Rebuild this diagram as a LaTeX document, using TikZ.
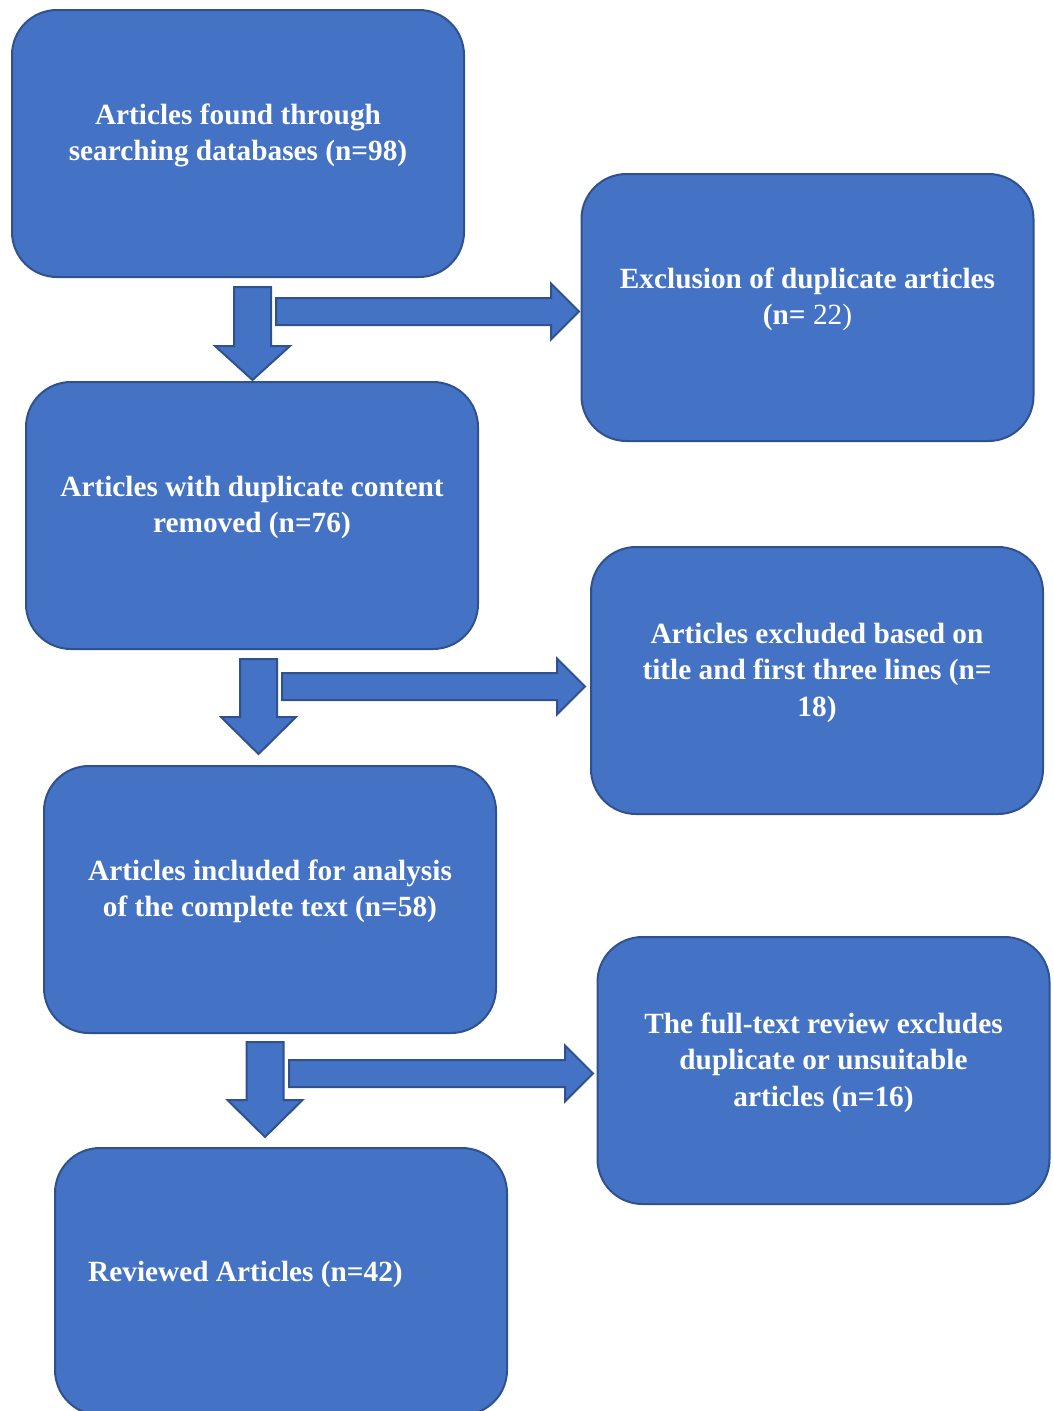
\documentclass[tikz,border=0pt]{standalone}
\usepackage{fontspec}
\setmainfont{Liberation Serif}
\definecolor{boxfill}{HTML}{4472C4}
\definecolor{boxline}{HTML}{2F528F}
\newcommand{\downarr}[4]{% cx, top, headstart, tip
  \fill[blockarrow] ({#1-18.5},#2) -- ({#1+18.5},#2) -- ({#1+18.5},#3) -- ({#1+37.5},#3)
    -- (#1,#4) -- ({#1-37.5},#3) -- ({#1-18.5},#3) -- cycle;}
\newcommand{\rightarr}[4]{% left, cy, headstart, tip
  \fill[blockarrow] (#1,{#2-13.5}) -- (#3,{#2-13.5}) -- (#3,{#2-28}) -- (#4,#2)
    -- (#3,{#2+28}) -- (#3,{#2+13.5}) -- (#1,{#2+13.5}) -- cycle;}
\begin{document}
\begin{tikzpicture}[x=1pt,y=-1pt,
  box/.style={draw=boxline, fill=boxfill, line width=2pt, rounded corners=45pt,
    minimum width=452pt, minimum height=267pt, inner sep=0pt},
  lbl/.style={text=white, font=\fontsize{29.3}{36.5}\selectfont\bfseries, align=center, inner sep=0pt},
  blockarrow/.style={draw=boxline, fill=boxfill, line width=2pt, line join=miter}]
\useasboundingbox (0,0) rectangle (1053,1411);
\clip (0,0) rectangle (1053,1411);
\node[box] (b1) at (238,143.5) {};
\node[box] (b2) at (807.5,307.5) {};
\node[box] (b3) at (252,515.5) {};
\node[box] (b4) at (817,680.5) {};
\node[box] (b5) at (270,899.5) {};
\node[box] (b6) at (823.5,1070.5) {};
\node[box] (b7) at (281,1281.5) {};
\node[lbl] (t1) at ([yshift=8pt]b1.center) {Articles found through\\searching databases (n=98)};
\node[lbl] (t2) at ([yshift=8pt]b2.center) {Exclusion of duplicate articles\\(n={\mdseries\ 22)}};
\node[lbl] (t3) at ([yshift=8pt]b3.center) {Articles with duplicate content\\removed (n=76)};
\node[lbl] (t4) at ([yshift=8pt]b4.center) {Articles excluded based on\\title and first three lines (n=\\18)};
\node[lbl] (t5) at ([yshift=8pt]b5.center) {Articles included for analysis\\of the complete text (n=58)};
\node[lbl] (t6) at ([yshift=8pt]b6.center) {The full-text review excludes\\duplicate or unsuitable\\articles (n=16)};
\node[lbl, anchor=west] (t7) at (88,1274) {Reviewed Articles (n=42)};
\downarr{252.5}{287}{346}{380}
\downarr{258.5}{659}{717}{754}
\downarr{265}{1042}{1100}{1137}
\rightarr{276}{311.5}{551}{579}
\rightarr{282}{686.5}{557}{585}
\rightarr{289}{1073.5}{565}{593}
\end{tikzpicture}
\end{document}
